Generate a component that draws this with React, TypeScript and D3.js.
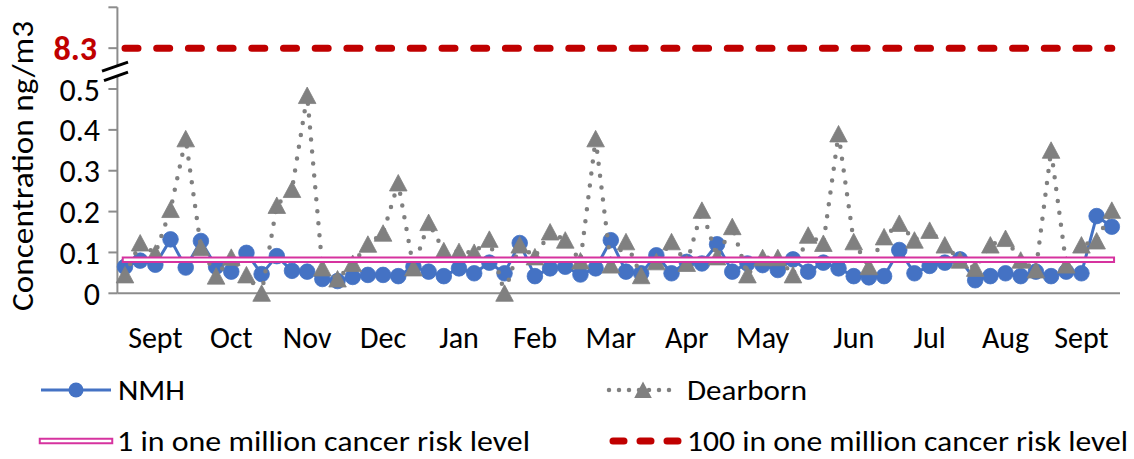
import React from 'react';
import * as d3 from 'd3';

// NMH site concentrations (ng/m3), one value per sample
const nmh = [
  0.065, 0.080, 0.070, 0.132, 0.063, 0.128, 0.065, 0.053, 0.099, 0.047, 0.091, 0.055, 0.053,
  0.035, 0.030, 0.040, 0.045, 0.045, 0.042,
  0.065, 0.053, 0.042, 0.061, 0.049, 0.075, 0.049, 0.123, 0.042, 0.061, 0.065, 0.046, 0.061,
  0.130, 0.053, 0.049, 0.093, 0.049, 0.077, 0.073, 0.120, 0.053, 0.073, 0.069, 0.057,
  0.083, 0.053, 0.075, 0.061, 0.042, 0.039, 0.042, 0.106, 0.049, 0.067, 0.075, 0.083,
  0.032, 0.042, 0.049, 0.042, 0.053, 0.042, 0.053, 0.049, 0.189, 0.163,
];

// Dearborn site concentrations (ng/m3)
const dearborn = [
  0.045, 0.123, 0.098, 0.205, 0.378, 0.112, 0.042, 0.088, 0.045, 0.0, 0.215, 0.254, 0.484,
  0.062, 0.035, 0.073, 0.120, 0.147, 0.270, 0.062, 0.173, 0.104, 0.102, 0.100, 0.132,
  0.0, 0.118, 0.089, 0.150, 0.130, 0.079, 0.378, 0.069, 0.126, 0.043, 0.077, 0.126, 0.073,
  0.203, 0.089, 0.163, 0.045, 0.087, 0.087,
  0.045, 0.142, 0.122, 0.390, 0.126, 0.065, 0.138, 0.171, 0.130, 0.154, 0.118, 0.081,
  0.061, 0.118, 0.134, 0.081, 0.057, 0.350, 0.069, 0.118, 0.128, 0.203,
];

const monthLabels = ['Sept', 'Oct', 'Nov', 'Dec', 'Jan', 'Feb', 'Mar', 'Apr', 'May', 'Jun', 'Jul', 'Aug', 'Sept'];
const monthSampleIndex = [2, 7, 12, 17, 22, 27, 32, 37, 42, 48, 53, 58, 63];

const yTicks = [0, 0.1, 0.2, 0.3, 0.4, 0.5];
const riskLow = 0.082; // 1 in one million cancer risk level
const riskHigh = 8.3; // 100 in one million cancer risk level (above axis break)

const legendNames = ['NMH', 'Dearborn', '1 in one million cancer risk level', '100 in one million cancer risk level'];

const BLUE = '#4472C4';
const GRAY = '#808080';
const PINK = '#D6339F';
const RED = '#C00000';
const AXIS = '#8C8C8C';
const FONT = "Carlito, Calibri, Lato, 'Open Sans', sans-serif";

const TRI = 'M0,-8.5 L8.8,8 L-8.8,8 Z';

export default function App() {
  const W = 1134;
  const H = 459;
  const idx = d3.range(nmh.length);
  const x = d3.scalePoint<number>().domain(idx).range([117.4, 1119.4]).padding(0.5);
  const y = d3.scaleLinear().domain([0, 0.7]).range([293.3, 7.3]);
  const breakDisplay = 0.6; // scale position where the 8.3 level is drawn
  const breakMark = 0.545;

  const lineNmh = d3.line<number>().x((_, i) => x(i)!).y((d) => y(d))(nmh) || '';
  const lineDear = d3.line<number>().x((_, i) => x(i)!).y((d) => y(d))(dearborn) || '';
  const lineLow = d3.line<number>().x((i) => x(i)!).y(() => y(riskLow))(idx) || '';
  const lineHigh = d3.line<number>().x((i) => x(i)!).y(() => y(breakDisplay))(idx) || '';

  const axisX0 = 117.4;
  const axisX1 = 1120;
  const by = y(breakMark);

  const fs = 29;
  const leg1 = 390;
  const leg2 = 441;

  return (
    <svg width={W} height={H} style={{ position: 'absolute', left: 0, top: 0, background: '#fff' }} fontFamily={FONT}>
      <rect width={W} height={H} fill="#fff" />
      {/* axes */}
      <line x1={axisX0} x2={axisX0} y1={y(0.7)} y2={y(0)} stroke={AXIS} strokeWidth={2} />
      <line x1={axisX0} x2={axisX1} y1={y(0)} y2={y(0)} stroke={AXIS} strokeWidth={2} />
      {[...yTicks, breakDisplay, 0.7].map((t) => (
        <line key={'t' + t} x1={axisX0 - 9} x2={axisX0} y1={y(t)} y2={y(t)} stroke={AXIS} strokeWidth={2} />
      ))}
      {yTicks.map((t) => (
        <text key={'l' + t} x={100} y={y(t)} dy="0.36em" textAnchor="end" fontSize={32} fill="#000">
          {t === 0 ? '0' : d3.format('.1f')(t)}
        </text>
      ))}
      <text x={97} y={y(breakDisplay)} dy="0.36em" textAnchor="end" fontSize={34} fontWeight="bold" fill={RED}>
        {riskHigh}
      </text>
      {/* axis break */}
      <path d={`M103,${by + 0.5} L128,${by - 8.5} L128,${by + 1} L105,${by + 9.5} Z`} fill="#fff" />
      <line x1={102} y1={by + 0.5} x2={128} y2={by - 8.5} stroke="#000" strokeWidth={3} />
      <line x1={104} y1={by + 10} x2={128} y2={by + 1.5} stroke="#000" strokeWidth={3} />

      {/* y title */}
      <text transform={`translate(33,${166}) rotate(-90)`} textAnchor="middle" fontSize={fs + 1} fill="#000" textLength={290} lengthAdjust="spacingAndGlyphs">
        Concentration ng/m3
      </text>

      {/* month labels */}
      {monthLabels.map((m, k) => (
        <text key={'m' + k} x={x(monthSampleIndex[k])} y={348} textAnchor="middle" fontSize={30} fill="#000">
          {m}
        </text>
      ))}

      {/* NMH */}
      <path d={lineNmh} fill="none" stroke={BLUE} strokeWidth={3} strokeLinejoin="round" />
      {nmh.map((d, i) => (
        <circle key={'c' + i} cx={x(i)} cy={y(d)} r={7.8} fill={BLUE} stroke={BLUE} strokeWidth={0.8} />
      ))}

      {/* Dearborn */}
      <path d={lineDear} fill="none" stroke={GRAY} strokeWidth={4.5} strokeLinecap="round" strokeDasharray="0 12" />
      {dearborn.map((d, i) => (
        <path key={'tr' + i} d={TRI} transform={`translate(${x(i)},${y(d)})`} fill={GRAY} stroke={GRAY} strokeWidth={0.8} />
      ))}

      {/* risk lines */}
      <path d={lineLow} fill="none" stroke={PINK} strokeWidth={6.5} strokeLinecap="square" />
      <path d={lineLow} fill="none" stroke="#fff" strokeWidth={2.5} strokeLinecap="square" />
      <path d={lineHigh} fill="none" stroke={RED} strokeWidth={7} strokeLinecap="round" strokeDasharray="13 18.7" />

      {/* legend */}
      <line x1={41} x2={111} y1={leg1} y2={leg1} stroke={BLUE} strokeWidth={3} />
      <circle cx={76} cy={leg1} r={7.5} fill={BLUE} />
      <text x={118} y={leg1} dy="0.36em" fontSize={fs} fill="#000" textLength={67} lengthAdjust="spacingAndGlyphs">
        {legendNames[0]}
      </text>

      <line x1={609} x2={677} y1={leg1} y2={leg1} stroke={GRAY} strokeWidth={4.5} strokeLinecap="round" strokeDasharray="0 10" />
      <path d={TRI} transform={`translate(643,${leg1})`} fill={GRAY} />
      <text x={687} y={leg1} dy="0.36em" fontSize={fs} fill="#000" textLength={120} lengthAdjust="spacingAndGlyphs">
        {legendNames[1]}
      </text>

      <line x1={42} x2={110} y1={leg2} y2={leg2} stroke={PINK} strokeWidth={6.5} strokeLinecap="square" />
      <line x1={42} x2={110} y1={leg2} y2={leg2} stroke="#fff" strokeWidth={2.5} strokeLinecap="square" />
      <text x={117} y={leg2} dy="0.36em" fontSize={fs} fill="#000" textLength={413} lengthAdjust="spacingAndGlyphs">
        {legendNames[2]}
      </text>

      <line x1={613} x2={679} y1={leg2} y2={leg2} stroke={RED} strokeWidth={7} strokeLinecap="round" strokeDasharray="11 16" />
      <text x={687} y={leg2} dy="0.36em" fontSize={fs} fill="#000" textLength={441} lengthAdjust="spacingAndGlyphs">
        {legendNames[3]}
      </text>
    </svg>
  );
}
